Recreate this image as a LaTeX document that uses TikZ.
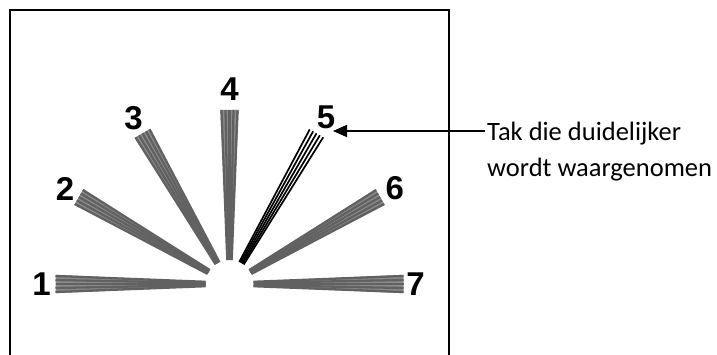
\documentclass[tikz,border=0pt]{standalone}
\usepackage{fontspec}
\setmainfont{Carlito}
\newfontfamily\numfont{Liberation Sans}
\usetikzlibrary{arrows.meta,calc,positioning}

\tikzset{
  numlabel/.style={font=\numfont\bfseries\fontsize{33}{33}\selectfont, inner sep=0pt},
  notetext/.style={font=\fontsize{26.5}{36}\selectfont, inner sep=2pt},
  greyline/.style={draw=black!62, line width=2.3pt},
  sharpline/.style={draw=black, line width=1.7pt},
  greyfill/.style={fill=black!45},
}

\begin{document}
\begin{tikzpicture}[x=1pt,y=1pt]
  \useasboundingbox (0,0) rectangle (717,354);
  \clip (0,0) rectangle (717,354);
  \fill[white] (0,0) rectangle (717,354);
  % frame, open at the bottom
  \draw[line width=2pt] (9.5,-20) -- (9.5,344) -- (449,344) -- (449,-20);
  \coordinate (hub) at (229.5,70);
  % grey branches
  \foreach \a in {180,150,120,90,30,0} {
    \fill[greyfill] ($(hub)+(\a:24)+(\a+90:2.6)$) -- ($(hub)+(\a:174)+(\a+90:9.2)$)
      -- ($(hub)+(\a:174)+(\a-90:9.2)$) -- ($(hub)+(\a:24)+(\a-90:2.6)$) -- cycle;
    \foreach \k in {-2,...,2}
      \draw[greyline] ($(hub)+(\a:24)+(\a+90:\k*1.1)$) -- ($(hub)+(\a:174)+(\a+90:\k*4)$);
  }
  % sharp branch 5
  \foreach \k in {-2,...,2}
    \draw[sharpline] ($(hub)+(60:24)+(150:\k*1.3)$) -- ($(hub)+(60:174)+(150:\k*3.9)$);
  % numbers
  \foreach \i/\a/\r in {1/180/188, 2/150/190, 3/120/192, 4/90/195, 5/60/193, 6/30/191, 7/0/186}
    \node[numlabel] (num\i) at ($(hub)+(\a:\r)$) {\i};
  % annotation
  \coordinate (tip5) at (333,223);
  \node[notetext, anchor=base west] (note1) at (485,214) {Tak die duidelijker};
  \node[notetext, anchor=base west] (note2) at ([yshift=-36pt]note1.base west) {wordt waargenomen};
  \draw[line width=1.5pt, -{Triangle[length=14pt,width=12pt]}] (note1.west |- tip5) -- (tip5);
\end{tikzpicture}
\end{document}
